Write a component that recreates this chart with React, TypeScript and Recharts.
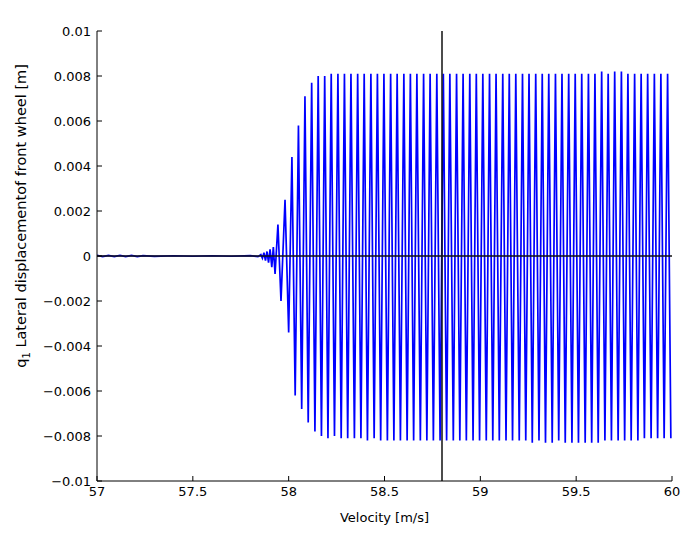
import React from 'react';
import { LineChart, Line, XAxis, YAxis, ReferenceLine, Label } from 'recharts';

const titleText = 'Front wheel lateral displacement';
const xLabelText = 'Velocity [m/s]';
const yLabelMain = 'q';
const yLabelSub = '1';
const yLabelRest = ' Lateral displacementof front wheel [m]';

const xTicks = [57, 57.5, 58, 58.5, 59, 59.5, 60];
const xTickLabels = ['57', '57.5', '58', '58.5', '59', '59.5', '60'];
const yTicks = [-0.01, -0.008, -0.006, -0.004, -0.002, 0, 0.002, 0.004, 0.006, 0.008, 0.01];
const yTickLabels = ['\u22120.01', '\u22120.008', '\u22120.006', '\u22120.004', '\u22120.002', '0', '0.002', '0.004', '0.006', '0.008', '0.01'];
const markerVelocity = 58.8;

const velocity = [
  57.000, 57.030, 57.060, 57.090, 57.120, 57.150, 57.180, 57.210, 57.240, 57.300,
  57.400, 57.500, 57.600, 57.700, 57.800, 57.840, 57.855, 57.863, 57.871, 57.879,
  57.887, 57.895, 57.903, 57.912, 57.920, 57.929, 57.944, 57.960, 57.981, 58.000,
  58.017, 58.034, 58.051, 58.068, 58.085, 58.102, 58.120, 58.137, 58.154, 58.171,
  58.188, 58.205, 58.222, 58.239, 58.257, 58.274, 58.291, 58.308, 58.325, 58.343,
  58.360, 58.377, 58.394, 58.411, 58.429, 58.446, 58.463, 58.480, 58.497, 58.515,
  58.532, 58.549, 58.566, 58.583, 58.601, 58.618, 58.635, 58.652, 58.669, 58.687,
  58.704, 58.721, 58.738, 58.755, 58.773, 58.790, 58.807, 58.824, 58.841, 58.859,
  58.876, 58.893, 58.910, 58.927, 58.945, 58.962, 58.979, 58.996, 59.013, 59.031,
  59.048, 59.065, 59.082, 59.099, 59.117, 59.134, 59.151, 59.168, 59.185, 59.203,
  59.220, 59.237, 59.254, 59.271, 59.289, 59.306, 59.323, 59.340, 59.357, 59.375,
  59.392, 59.409, 59.426, 59.443, 59.461, 59.478, 59.495, 59.512, 59.529, 59.547,
  59.564, 59.581, 59.598, 59.615, 59.633, 59.650, 59.667, 59.684, 59.701, 59.719,
  59.736, 59.753, 59.770, 59.787, 59.805, 59.822, 59.839, 59.856, 59.873, 59.891,
  59.908, 59.925, 59.942, 59.959, 59.977, 59.994,
];

const displacement = [
  0.00003, -0.00003, 0.00003, -0.00003, 0.00003, -0.00003, 0.00003, -0.00003, 0.00002, -0.00002,
  0.00001, -0.00001, 0.00001, -0.00001, 0.00002, -0.00003, 0.00006, -0.0001, 0.00015, -0.0002,
  0.0002, -0.0003, 0.0003, -0.0005, 0.0004, -0.0008, 0.0014, -0.0020, 0.0025, -0.0034,
  0.0044, -0.0062, 0.0058, -0.0068, 0.0071, -0.0074, 0.0077, -0.0078, 0.0080, -0.0080,
  0.0080, -0.0081, 0.0081, -0.0080, 0.0081, -0.0081, 0.0081, -0.0081, 0.0081, -0.0081,
  0.0081, -0.0081, 0.0081, -0.0082, 0.0081, -0.0081, 0.0081, -0.0082, 0.0081, -0.0082,
  0.0081, -0.0082, 0.0081, -0.0082, 0.0081, -0.0082, 0.0081, -0.0082, 0.0081, -0.0082,
  0.0081, -0.0082, 0.0081, -0.0082, 0.0081, -0.0082, 0.0081, -0.0082, 0.0081, -0.0082,
  0.0081, -0.0082, 0.0081, -0.0082, 0.0081, -0.0082, 0.0081, -0.0082, 0.0081, -0.0082,
  0.0081, -0.0082, 0.0081, -0.0082, 0.0081, -0.0082, 0.0081, -0.0082, 0.0081, -0.0082,
  0.0081, -0.0082, 0.0081, -0.0083, 0.0081, -0.0082, 0.0081, -0.0083, 0.0081, -0.0083,
  0.0081, -0.0082, 0.0081, -0.0083, 0.0081, -0.0083, 0.0081, -0.0083, 0.0081, -0.0083,
  0.0081, -0.0083, 0.0081, -0.0083, 0.0082, -0.0082, 0.0081, -0.0082, 0.0082, -0.0082,
  0.0082, -0.0082, 0.0081, -0.0082, 0.0081, -0.0082, 0.0081, -0.0081, 0.0081, -0.0081,
  0.0081, -0.0081, 0.0081, -0.0081, 0.0081, -0.0081,
];

const data = velocity.map((v, i) => ({ v, q: displacement[i] }));

const FONT = '"DejaVu Sans", sans-serif';
const FS = 13;
const TICK_LEN = 5;

const BottomTick = (props: any) => {
  const { x, y, index } = props;
  return (
    <g>
      <line x1={x} x2={x} y1={y} y2={y - TICK_LEN} stroke="#000" strokeWidth={1} />
      <text x={x} y={y + 15} textAnchor="middle" fontFamily={FONT} fontSize={FS} fill="#000">
        {xTickLabels[index]}
      </text>
    </g>
  );
};

const TopTick = (props: any) => {
  const { x, y } = props;
  return <line x1={x} x2={x} y1={y} y2={y + TICK_LEN} stroke="#000" strokeWidth={1} />;
};

const LeftTick = (props: any) => {
  const { x, y, index } = props;
  return (
    <g>
      <line x1={x} x2={x + TICK_LEN} y1={y} y2={y} stroke="#000" strokeWidth={1} />
      <text x={x - 6} y={y + 4.5} textAnchor="end" fontFamily={FONT} fontSize={FS} fill="#000">
        {yTickLabels[index]}
      </text>
    </g>
  );
};

const RightTick = (props: any) => {
  const { x, y } = props;
  return <line x1={x} x2={x - TICK_LEN} y1={y} y2={y} stroke="#000" strokeWidth={1} />;
};

const TitleContent = (props: any) => {
  const vb = props.viewBox;
  return (
    <text x={vb.x + vb.width / 2} y={vb.y - 12} textAnchor="middle" fontFamily={FONT} fontSize={13} fill="#000">
      {titleText}
    </text>
  );
};

const XLabelContent = (props: any) => {
  const vb = props.viewBox;
  return (
    <text x={vb.x + vb.width / 2} y={vb.y + 41} textAnchor="middle" fontFamily={FONT} fontSize={FS} fill="#000">
      {xLabelText}
    </text>
  );
};

const YLabelContent = (props: any) => {
  const vb = props.viewBox;
  const cx = 26;
  const cy = vb.y + vb.height / 2 - 40;
  return (
    <text transform={`translate(${cx},${cy}) rotate(-90)`} textAnchor="middle" fontFamily={FONT} fontSize={14.5} fill="#000">
      <tspan>{yLabelMain}</tspan>
      <tspan fontSize={10} dy={4}>{yLabelSub}</tspan>
      <tspan dy={-4}>{yLabelRest}</tspan>
    </text>
  );
};

export default function App() {
  return (
    <div style={{ position: 'absolute', left: 0, top: 0, width: 683, height: 534, background: '#fff' }}>
      <LineChart
        width={683}
        height={534}
        data={data}
        margin={{ top: 31, right: 11, bottom: 23, left: 37 }}
      >
        <XAxis
          xAxisId="b"
          dataKey="v"
          type="number"
          domain={[57, 60]}
          ticks={xTicks}
          interval={0}
          allowDataOverflow
          height={30}
          tickSize={0}
          tickMargin={0}
          tickLine={false}
          axisLine={{ stroke: '#000', strokeWidth: 1 }}
          tick={<BottomTick />}
        >
          <Label content={<XLabelContent />} />
        </XAxis>
        <XAxis
          xAxisId="t"
          orientation="top"
          dataKey="v"
          type="number"
          domain={[57, 60]}
          ticks={xTicks}
          interval={0}
          allowDataOverflow
          height={0}
          tickSize={0}
          tickMargin={0}
          tickLine={false}
          axisLine={{ stroke: '#000', strokeWidth: 1 }}
          tick={<TopTick />}
        >
          <Label content={<TitleContent />} />
        </XAxis>
        <YAxis
          yAxisId="l"
          type="number"
          domain={[-0.01, 0.01]}
          ticks={yTicks}
          interval={0}
          allowDataOverflow
          width={60}
          tickSize={0}
          tickMargin={0}
          tickLine={false}
          axisLine={{ stroke: '#000', strokeWidth: 1 }}
          tick={<LeftTick />}
        >
          <Label content={<YLabelContent />} />
        </YAxis>
        <YAxis
          yAxisId="r"
          orientation="right"
          type="number"
          domain={[-0.01, 0.01]}
          ticks={yTicks}
          interval={0}
          allowDataOverflow
          width={0}
          tickSize={0}
          tickMargin={0}
          tickLine={false}
          axisLine={{ stroke: '#000', strokeWidth: 1 }}
          tick={<RightTick />}
        />
        <Line
          xAxisId="b"
          yAxisId="l"
          type="linear"
          dataKey="q"
          stroke="#0000ff"
          strokeWidth={1.7}
          dot={false}
          activeDot={false}
          isAnimationActive={false}
        />
        <ReferenceLine xAxisId="b" yAxisId="l" y={0} stroke="#111" strokeWidth={1.5} />
        <ReferenceLine xAxisId="b" yAxisId="l" x={markerVelocity} stroke="#111" strokeWidth={1.5} />
      </LineChart>
    </div>
  );
}
